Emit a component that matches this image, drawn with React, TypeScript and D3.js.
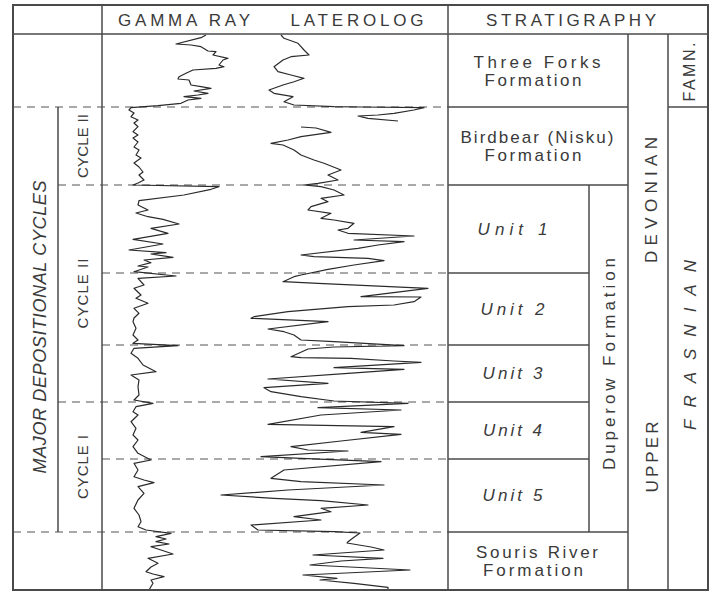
import React from "react";
import * as d3 from "d3";

// ---------- DATA ----------
// depth in feet below top of logged interval; track values read off the chart
const gammaRay: [number, number][] = [
  [0,105],[2.7,100],[9,75],[10,90],[11.7,100],[16,107],[16.7,115],[20,112],[23.3,127],[25,122],[30,118],[31.7,123],[33.3,115],[35,92],[38.3,85],[41.7,78],[44,77],[45,88],[50,90],[51.7,100],[53.3,110],[56,93],[58.3,107],[60,97],[61.7,83],[63.3,100],[65,87],[68.3,80],[70.7,57],[72.7,30],
  [75,28],[78,33],[81.7,30],[85,37],[88,33],[91.7,37],[96.7,32],[100,37],[103,32],[107,37],[112,33],[115,38],[120,35],[123,40],[128,33],[132,38],[137,42],[140,38],[145,43],[148,37],
  [150,32],[151.7,118],[154.3,110],[160,83],[165.7,38],[170,37],[175,47],[178,35],[181.7,47],[184.3,62],[189,78],[193.3,50],[198.3,67],[204.3,32],[209,62],[215,28],[217.7,65],[219,50],[222.3,72],[225,43],[227.7,50],[231,37],[232,47],[236.7,33],[241,75],[243.3,37],[250,43],[253.3,33],[260,40],[263.3,35],[268.3,47],[273.3,33],[278.3,38],[283,33],
  [286.7,32],[293.3,35],[300,32],[305,37],[308.3,32],[310.7,77],[313.3,33],[318.3,30],[323.3,37],[330,42],[336.7,55],[340,30],[345,38],[351.7,37],[360,38],[365,33],[368.3,52],[371.7,35],[376.7,32],[380,37],[386.7,30],[393.3,35],[400,32],[405,37],[411.7,32],[418.3,37],
  [425,50],[428.3,33],[435,37],[441.7,33],[445,43],[447.7,53],[451.7,37],[458.3,43],[465,37],[473.3,33],[480,38],[486.7,40],[491.7,37],[495,45],[498.3,70],[501.7,55],[504,65],[506.7,55],[509,68],[511.7,50],[515,60],[519,72],[523.3,47],[528.3,57],[532,50],[536.7,45],[539,52],[541.7,63],[545,50],[548.3,52],[555,48]
];

const laterologUpper: [number, number][] = [
  [0,180],[3.3,183],[8.3,197],[11.7,200],[15,203],[20,208],[21.7,190],[25,182],[31.7,173],[36.7,177],[40,190],[43.3,203],[46.7,193],[50,182],[55,168],[58.3,173],[61.7,192],[66.7,183],[70,193],[71.7,233],[72,260],[72.7,323],[75,313],[78.3,293],[80,277],[81,257],[83.3,267],[86,297]
];

const laterologLower: [number, number][] = [
  [92,200],[93,215],[97.3,230],[101.7,200],[105,187],[108.3,170],[110,182],[115,193],[120,200],[125,213],[128.3,223],[135,240],[140,227],[145,237],[148.3,217],[150,203],[151.7,220],[155,233],[160,243],[163.3,220],[166.7,227],[171.7,210],[175,207],[178.3,230],[183.3,220],[185,233],[188.3,253],[193.3,247],[195,237],[198.3,247],[201,313],[205,253],[206.7,303],[210,277],[213.3,257],[220,200],[221.7,213],[223.3,267],[225.7,283],[230,253],[234.3,227],[240,200],[241.7,193],[246.7,182],[248.3,217],[253.3,327],[261.7,260],[262,320],[266.7,313],[270,293],[271.7,247],[276.7,187],[281.7,153],
  [283.3,150],[286.7,227],[294,167],[296.7,183],[300,193],[305,200],[306.7,233],[310.7,303],[312,233],[314,207],[321.7,190],[322.7,200],[323.3,250],[326,293],[327.3,320],[332.7,233],[334.3,303],[338.3,247],[344,167],[348.3,227],[352.7,163],[356.7,170],[361.7,200],[366,233],[368.3,307],[372.7,217],[375,300],[380,220],[389.3,167],[391.7,293],[397.3,260],[399.3,300],[406,240],[411.7,190],[415,207],[416,247],
  [421.7,160],[423.3,200],[426.7,280],[435,183],[443.3,170],[446.7,200],[450,283],[455,187],[460,120],[463.3,173],[465.7,220],[470,267],[473.3,220],[476.7,230],[481.7,193],[485,220],[490,150],[495,157],[496.7,233],[498,259],[502.3,253],[506.7,247],[508,246],[512,270],[515,283],[518,240],[520,212],[523.3,282],[526,240],[530,209],[535,309],[540,202],[543.3,236],[545,219],[548.3,253],[552.3,287],[555,287]
];

const strataNames = ["Three Forks|Formation", "Birdbear (Nisku)|Formation", "Unit 1", "Unit 2", "Unit 3", "Unit 4", "Unit 5", "Souris River|Formation"];
const strataTops = [0, 72, 150, 238, 310, 367, 424, 497];
const strataBases = [72, 150, 238, 310, 367, 424, 497, 555];

const cycleNames = ["CYCLE II", "CYCLE II", "CYCLE I"];
const cycleTops = [72, 150, 367];
const cycleBases = [150, 367, 497];

const boundaryDepths = [72, 150, 238, 310, 367, 424, 497];
const boundaryReach = ["full", "cycle", "track", "track", "cycle", "track", "full"];

const TOTAL_DEPTH = 555;

// ---------- LAYOUT ----------
const X0 = 13, XC = 58, XT = 102, XS = 448, XU = 589, XF = 628, XD = 668, X1 = 708;
const Y0 = 5, YH = 34, Y1 = 590;

const INK = "#3a3a3a";
const FONT = "'Liberation Sans', Arial, sans-serif";

function RotText({ x, y, text, size, len, italic }: { x: number; y: number; text: string; size: number; len: number; italic?: boolean }) {
  return (
    <text
      transform={`translate(${x},${y}) rotate(-90)`}
      textAnchor="middle"
      dominantBaseline="central"
      fontSize={size}
      fontStyle={italic ? "italic" : "normal"}
      textLength={len}
      lengthAdjust="spacing"
      fill={INK}
    >
      {text}
    </text>
  );
}

export default function App() {
  const y = d3.scaleLinear().domain([0, TOTAL_DEPTH]).range([35, Y1]);
  const grX = d3.scaleLinear().domain([0, 347]).range([101, XS]);
  const llX = d3.scaleLinear().domain([0, 347]).range([101, XS]);
  const grLine = d3.line<[number, number]>().x((d) => grX(d[1])).y((d) => y(d[0]));
  const llLine = d3.line<[number, number]>().x((d) => llX(d[1])).y((d) => y(d[0]));

  const reachX: Record<string, number> = { full: X0, cycle: XC, track: XT };

  const unitWidths = [127, 153, 70, 64, 60, 59, 60, 122];
  const secondWidths = [97, 97, 0, 0, 0, 0, 0, 100];

  return (
    <div style={{ position: "fixed", left: 0, top: 0, width: 712, height: 594, background: "#fff" }}>
      <svg width={712} height={594} style={{ display: "block" }} fontFamily={FONT}>
        <rect x={0} y={0} width={712} height={594} fill="#fff" />

        {/* dashed boundaries */}
        {boundaryDepths.map((d, i) => (
          <line key={"b" + i} x1={reachX[boundaryReach[i]]} x2={XS} y1={y(d)} y2={y(d)} stroke="#555" strokeWidth={1.2} strokeDasharray="8,6" />
        ))}

        {/* log curves */}
        <path d={grLine(gammaRay) || ""} fill="none" stroke="#2a2a2a" strokeWidth={1.2} strokeLinejoin="round" />
        <path d={llLine(laterologUpper) || ""} fill="none" stroke="#2a2a2a" strokeWidth={1.2} strokeLinejoin="round" />
        <path d={llLine(laterologLower) || ""} fill="none" stroke="#2a2a2a" strokeWidth={1.2} strokeLinejoin="round" />

        {/* frame */}
        <g stroke="#4a4a4a" fill="none">
          <rect x={X0} y={Y0} width={X1 - X0} height={Y1 - Y0} strokeWidth={2} />
          <line x1={X0} x2={X1} y1={YH} y2={YH} strokeWidth={1.5} />
          <line x1={XT} x2={XT} y1={Y0} y2={Y1} strokeWidth={1.5} />
          <line x1={XS} x2={XS} y1={Y0} y2={Y1} strokeWidth={1.5} />
          <line x1={XC} x2={XC} y1={y(cycleTops[0])} y2={y(cycleBases[2])} strokeWidth={1.5} />
          <line x1={XF} x2={XF} y1={YH} y2={Y1} strokeWidth={1.5} />
          <line x1={XD} x2={XD} y1={YH} y2={Y1} strokeWidth={1.5} />
          <line x1={XD} x2={X1} y1={y(strataBases[0])} y2={y(strataBases[0])} strokeWidth={1.5} />
          <line x1={XU} x2={XU} y1={y(strataTops[2])} y2={y(strataBases[6])} strokeWidth={1.5} />
          {strataBases.slice(0, 7).map((d, i) => (
            <line key={"s" + i} x1={XS} x2={i === 0 || i === 1 || i === 6 ? XF : XU} y1={y(d)} y2={y(d)} strokeWidth={1.5} />
          ))}
        </g>

        {/* headers */}
        <text x={184} y={20} textAnchor="middle" dominantBaseline="central" fontSize={17} textLength={132} lengthAdjust="spacing" fill={INK}>GAMMA RAY</text>
        <text x={357} y={20} textAnchor="middle" dominantBaseline="central" fontSize={17} textLength={133} lengthAdjust="spacing" fill={INK}>LATEROLOG</text>
        <text x={571} y={20} textAnchor="middle" dominantBaseline="central" fontSize={17} textLength={170} lengthAdjust="spacing" fill={INK}>STRATIGRAPHY</text>

        {/* strata labels */}
        {strataNames.map((n, i) => {
          const parts = n.split("|");
          const isUnit = parts.length === 1;
          const cx = isUnit ? (XS + XU) / 2 - 6 : (XS + XF) / 2 - 1;
          const cy = (y(strataTops[i]) + y(strataBases[i])) / 2;
          if (isUnit) {
            return (
              <text key={"t" + i} x={cx} y={cy} textAnchor="middle" dominantBaseline="central" fontSize={17} fontStyle="italic" textLength={unitWidths[i]} lengthAdjust="spacing" fill={INK}>{parts[0]}</text>
            );
          }
          return (
            <g key={"t" + i}>
              <text x={cx} y={cy - 9} textAnchor="middle" dominantBaseline="central" fontSize={17} textLength={unitWidths[i]} lengthAdjust="spacing" fill={INK}>{parts[0]}</text>
              <text x={cx - 4} y={cy + 9} textAnchor="middle" dominantBaseline="central" fontSize={17} textLength={secondWidths[i]} lengthAdjust="spacing" fill={INK}>{parts[1]}</text>
            </g>
          );
        })}

        {/* rotated labels */}
        <RotText x={609} y={364} text="Duperow  Formation" size={17} len={212} />
        <RotText x={651} y={200} text="DEVONIAN" size={17} len={126} />
        <RotText x={652} y={457} text="UPPER" size={17} len={71} />
        <RotText x={689} y={72} text="FAMN." size={16} len={59} />
        <RotText x={690} y={345} text="FRASNIAN" size={17} len={170} italic />
        <RotText x={40} y={327} text="MAJOR  DEPOSITIONAL  CYCLES" size={18} len={293} italic />
        {cycleNames.map((c, i) => (
          <RotText key={"c" + i} x={82} y={(y(cycleTops[i]) + y(cycleBases[i])) / 2} text={c} size={15} len={i === 1 ? 70 : 64} />
        ))}
      </svg>
    </div>
  );
}
